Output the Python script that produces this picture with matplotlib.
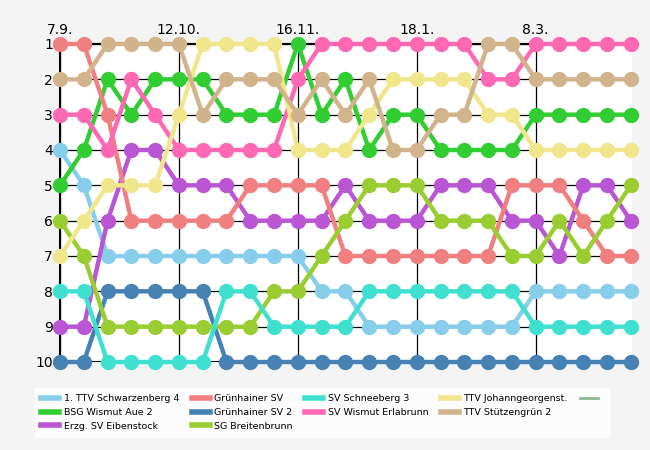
import numpy as np
import matplotlib
matplotlib.use('Agg')
import matplotlib.pyplot as plt
from matplotlib.lines import Line2D

''' data '''
rounds = list(range(25))
tick_pos = [0, 5, 10, 15, 20]
tick_labels = ['7.9.', '12.10.', '16.11.', '18.1.', '8.3.']

teams = ['1. TTV Schwarzenberg 4', 'BSG Wismut Aue 2', 'Erzg. SV Eibenstock',
         'Grünhainer SV', 'Grünhainer SV 2', 'SG Breitenbrunn',
         'SV Schneeberg 3', 'SV Wismut Erlabrunn',
         'TTV Johanngeorgenst.', 'TTV Stützengrün 2']
colors = ['#87ceeb', '#32cd32', '#ba55d3', '#f08080', '#4682b4', '#9acd32',
          '#40e0d0', '#ff69b4', '#f0e68c', '#d2b48c']

schwarzenberg = [4, 5, 7, 7, 7, 7, 7, 7, 7, 7, 7, 8, 8, 9, 9, 9, 9, 9, 9, 9, 8, 8, 8, 8, 8]
aue           = [5, 4, 2, 3, 2, 2, 2, 3, 3, 3, 1, 3, 2, 4, 3, 3, 4, 4, 4, 4, 3, 3, 3, 3, 3]
eibenstock    = [9, 9, 6, 4, 4, 5, 5, 5, 6, 6, 6, 6, 5, 6, 6, 6, 5, 5, 5, 6, 6, 7, 5, 5, 6]
gruenhain     = [1, 1, 3, 6, 6, 6, 6, 6, 5, 5, 5, 5, 7, 7, 7, 7, 7, 7, 7, 5, 5, 5, 6, 7, 7]
gruenhain2    = [10, 10, 8, 8, 8, 8, 8, 10, 10, 10, 10, 10, 10, 10, 10, 10, 10, 10, 10, 10, 10, 10, 10, 10, 10]
breitenbrunn  = [6, 7, 9, 9, 9, 9, 9, 9, 9, 8, 8, 7, 6, 5, 5, 5, 6, 6, 6, 7, 7, 6, 7, 6, 5]
schneeberg    = [8, 8, 10, 10, 10, 10, 10, 8, 8, 9, 9, 9, 9, 8, 8, 8, 8, 8, 8, 8, 9, 9, 9, 9, 9]
erlabrunn     = [3, 3, 4, 2, 3, 4, 4, 4, 4, 4, 2, 1, 1, 1, 1, 1, 1, 1, 2, 2, 1, 1, 1, 1, 1]
johann        = [7, 6, 5, 5, 5, 3, 1, 1, 1, 1, 4, 4, 4, 3, 2, 2, 2, 2, 3, 3, 4, 4, 4, 4, 4]
stuetzengruen = [2, 2, 1, 1, 1, 1, 3, 2, 2, 2, 3, 2, 3, 2, 4, 4, 3, 3, 1, 1, 2, 2, 2, 2, 2]
series = [schwarzenberg, aue, eibenstock, gruenhain, gruenhain2, breitenbrunn,
          schneeberg, erlabrunn, johann, stuetzengruen]

''' plot '''
fig = plt.figure(figsize=(6.5, 4.5), dpi=100, facecolor='#f4f4f4')
ax = fig.add_axes([60 / 650, 1 - 362 / 450, 572 / 650, 318 / 450])
ax.set_facecolor('white')

for name, col, ranks in zip(teams, colors, series):
    ax.plot(rounds, ranks, color=col, lw=3.2, marker='o', ms=10, zorder=3, clip_on=False)

ax.set_xlim(0, 24.05)
ax.set_ylim(10, 1)
ax.set_yticks(range(1, 11))
ax.set_xticks(tick_pos)
ax.set_xticklabels(tick_labels)
ax.xaxis.tick_top()
ax.tick_params(labelsize=10, length=4, pad=1)
ax.grid(True, color='black', lw=0.9, zorder=1)
for s in ['right', 'bottom']:
    ax.spines[s].set_visible(False)
ax.spines['left'].set_linewidth(1.5)
ax.spines['top'].set_linewidth(1.5)
ax.axhline(10, color='black', lw=1.5, zorder=1)

''' legend: pad with blanks to get the column layout '''
h = {n: Line2D([], [], color=c, lw=4) for n, c in zip(teams, colors)}
blank = Line2D([], [], color='none')
extra = Line2D([], [], color='#8fbc8f', lw=2)
order = [('1. TTV Schwarzenberg 4', h['1. TTV Schwarzenberg 4']),
         ('BSG Wismut Aue 2', h['BSG Wismut Aue 2']),
         ('Erzg. SV Eibenstock', h['Erzg. SV Eibenstock']),
         ('Grünhainer SV', h['Grünhainer SV']),
         ('Grünhainer SV 2', h['Grünhainer SV 2']),
         ('SG Breitenbrunn', h['SG Breitenbrunn']),
         ('SV Schneeberg 3', h['SV Schneeberg 3']),
         ('SV Wismut Erlabrunn', h['SV Wismut Erlabrunn']),
         ('', blank),
         ('TTV Johanngeorgenst.', h['TTV Johanngeorgenst.']),
         ('TTV Stützengrün 2', h['TTV Stützengrün 2']),
         ('', blank),
         ('', extra), ('', blank), ('', blank)]
leg = fig.legend([o[1] for o in order], [o[0] for o in order], ncol=5,
                 loc='upper left', bbox_to_anchor=(30 / 650, 1 - 383 / 450),
                 fontsize=6.8, frameon=True, fancybox=False, edgecolor='white',
                 handlelength=1.9, handletextpad=0.5, columnspacing=1.3,
                 labelspacing=0.5, borderpad=0.7)
leg.get_frame().set_facecolor('white')

fig.savefig('out.png', facecolor=fig.get_facecolor())
